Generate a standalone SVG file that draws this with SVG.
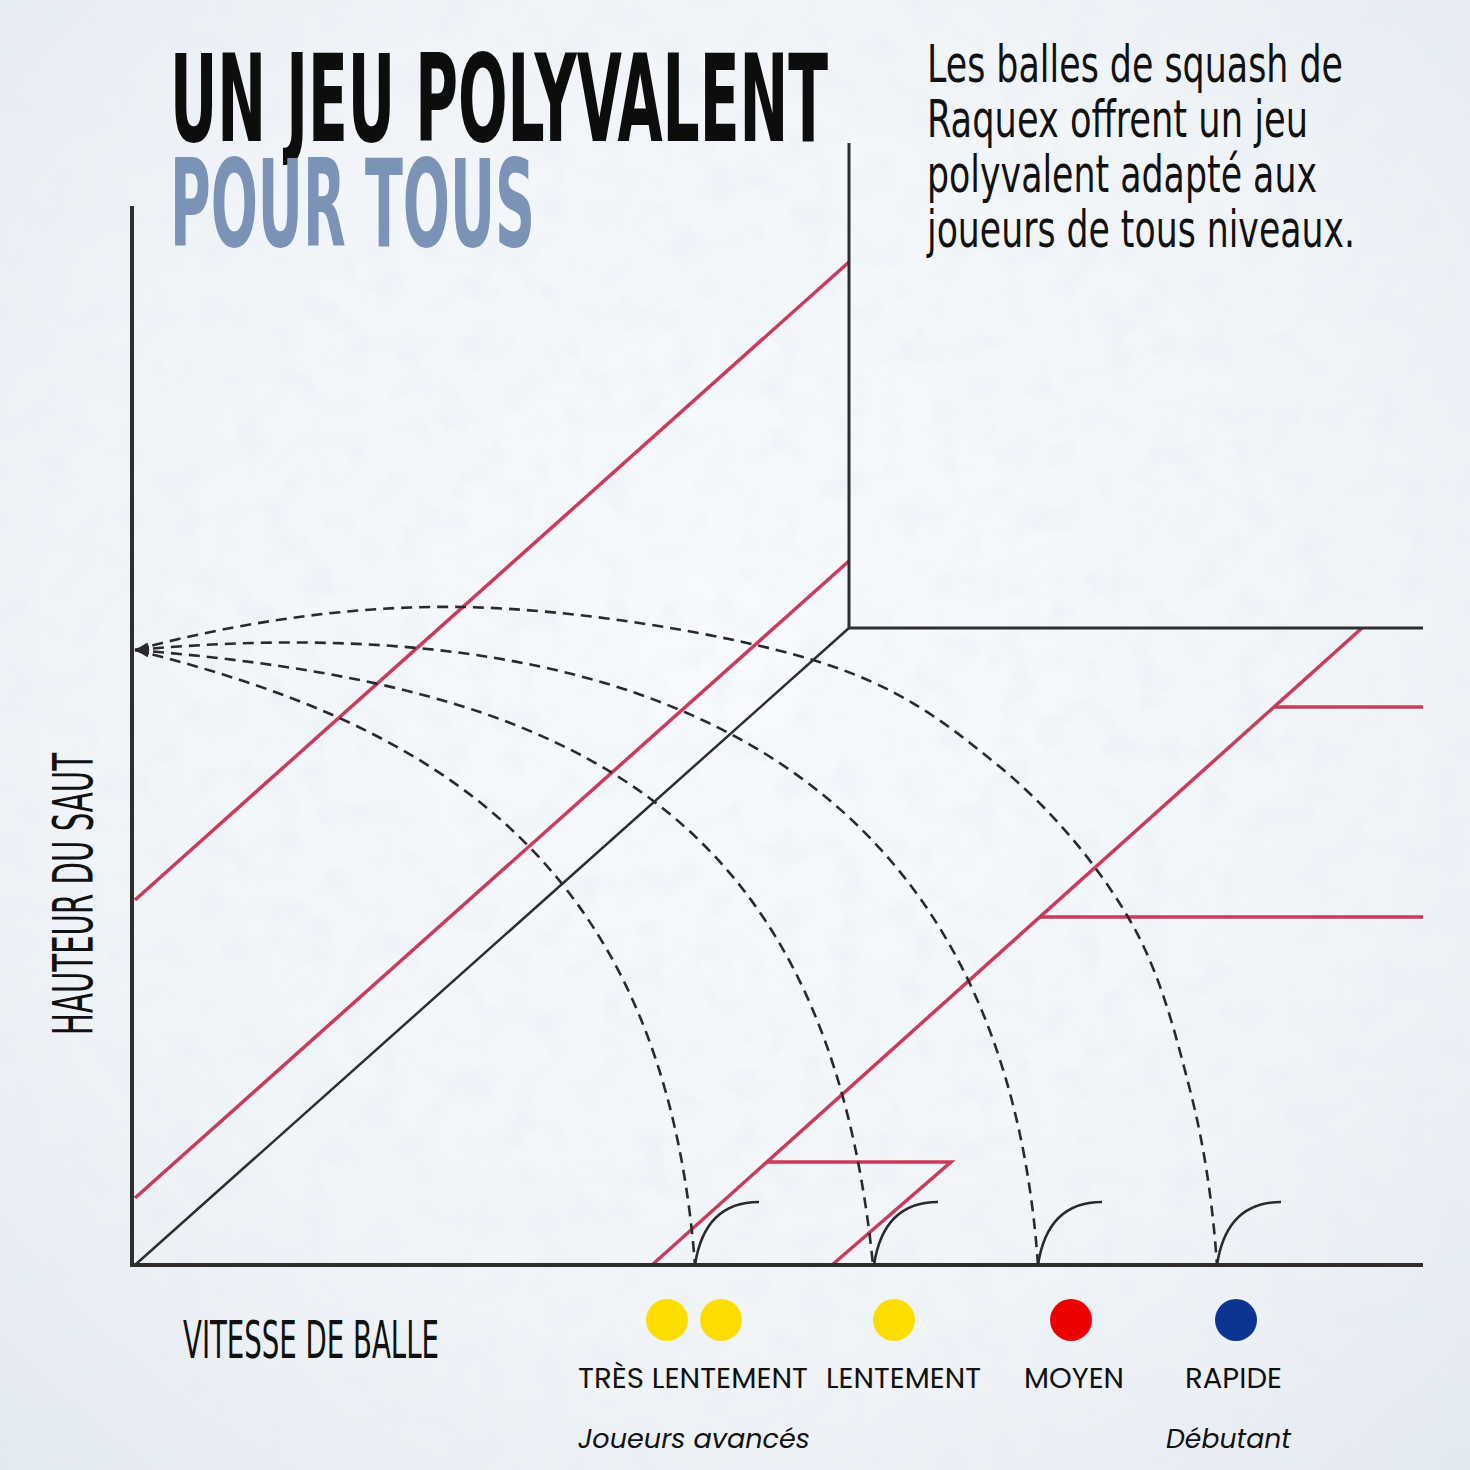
<svg xmlns="http://www.w3.org/2000/svg" width="1470" height="1470" viewBox="0 0 1470 1470">
  <defs>
    <radialGradient id="bg" cx="50%" cy="45%" r="75%">
      <stop offset="0" stop-color="#f8fafd"/>
      <stop offset="0.6" stop-color="#f1f5f9"/>
      <stop offset="1" stop-color="#e3e9f0"/>
    </radialGradient>
    <filter id="tex" x="0" y="0" width="100%" height="100%">
      <feTurbulence type="fractalNoise" baseFrequency="0.03" numOctaves="3" seed="7"/>
      <feColorMatrix values="0 0 0 0 0.80  0 0 0 0 0.85  0 0 0 0 0.92  0 0 0 1.8 -0.78"/>
    </filter>
    <marker id="ah" viewBox="0 0 14 8" refX="14" refY="4" markerWidth="14" markerHeight="8" markerUnits="userSpaceOnUse" orient="auto-start-reverse">
      <path d="M0,0 L14,4 L0,8 z" fill="#2a2a2a"/>
    </marker>
    <style>
      .axis{stroke:#2e2e2e;stroke-width:4;fill:none;stroke-linecap:square}
      .wall{stroke:#2e2e2e;stroke-width:3;fill:none}
      .diag{stroke:#2e2e2e;stroke-width:2.5;fill:none}
      .red{stroke:#c83b5c;stroke-width:3.5;fill:none;stroke-linejoin:miter}
      .arc{stroke:#2a2a2a;stroke-width:2.6;fill:none;stroke-dasharray:11 7}
      .bounce{stroke:#2a2a2a;stroke-width:2.6;fill:none}
      .cond{font-family:"Liberation Sans Narrow","DejaVu Sans Condensed","Liberation Sans",sans-serif;fill:#111}
      .title{font-family:"Liberation Sans Narrow","DejaVu Sans Condensed","Liberation Sans",sans-serif;font-weight:bold;font-size:122px}
      .lab{font-family:Poppins,Inter,"Open Sans",sans-serif;font-size:28px;fill:#111}
      .it{font-family:Poppins,Inter,"Open Sans",sans-serif;font-size:27px;font-style:italic;fill:#111}
    </style>
  </defs>

  <rect width="1470" height="1470" fill="url(#bg)"/>
  <rect width="1470" height="1470" filter="url(#tex)" opacity="0.55"/>

  <g id="title">
    <text class="title" x="170" y="141" fill="#0d0d0d" textLength="658" lengthAdjust="spacingAndGlyphs">UN JEU POLYVALENT</text>
    <text class="title" x="170" y="246" fill="#7b93b6" textLength="365" lengthAdjust="spacingAndGlyphs">POUR TOUS</text>
  </g>

  <g id="intro-text" class="cond" font-size="52">
    <text x="927" y="82" textLength="416" lengthAdjust="spacingAndGlyphs">Les balles de squash de</text>
    <text x="927" y="137" textLength="381" lengthAdjust="spacingAndGlyphs">Raquex offrent un jeu</text>
    <text x="927" y="192" textLength="390" lengthAdjust="spacingAndGlyphs">polyvalent adapté aux</text>
    <text x="927" y="247" textLength="428" lengthAdjust="spacingAndGlyphs">joueurs de tous niveaux.</text>
  </g>

  <g id="red-lines">
    <line class="red" x1="135" y1="900" x2="849" y2="262"/>
    <line class="red" x1="135" y1="1198" x2="849" y2="561"/>
    <line class="red" x1="652" y1="1265" x2="1362" y2="628"/>
    <line class="red" x1="1275" y1="707" x2="1423" y2="707"/>
    <line class="red" x1="1040" y1="917" x2="1423" y2="917"/>
    <polyline class="red" points="767,1162 951,1162 832,1265"/>
  </g>

  <g id="frame">
    <line class="wall" x1="849" y1="143" x2="849" y2="628"/>
    <line class="wall" x1="849" y1="628" x2="1423" y2="628"/>
    <line class="diag" x1="135" y1="1265" x2="849" y2="628"/>
    <line class="axis" x1="132" y1="208" x2="132" y2="1265"/>
    <line class="axis" x1="132" y1="1265" x2="1421" y2="1265"/>
  </g>

  <g id="connectors">
    <path class="arc" marker-start="url(#ah)" d="M135,650 C415,720 663,845 695,1265"/>
    <path class="arc" marker-start="url(#ah)" d="M135,650 C555,684 826,795 873,1265"/>
    <path class="arc" marker-start="url(#ah)" d="M135,650 C585,609 1000,725 1038,1265"/>
    <path class="arc" marker-start="url(#ah)" d="M135,650 C235,623 350,605 463,607 C576,609 723,633 813,660 C902,687 947,724 1000,767 C1052,810 1096,863 1128,917 C1160,971 1175,1032 1190,1090 C1205,1148 1213,1207 1217,1265"/>
  </g>

  <g id="bounces">
    <path class="bounce" d="M695,1265 C701,1225 721,1202 759,1202"/>
    <path class="bounce" d="M874,1265 C880,1225 900,1202 938,1202"/>
    <path class="bounce" d="M1038,1265 C1044,1225 1064,1202 1102,1202"/>
    <path class="bounce" d="M1217,1265 C1223,1225 1243,1202 1281,1202"/>
  </g>

  <g id="axis-labels" class="cond">
    <text font-size="55" transform="translate(92,1035) rotate(-90)" textLength="282" lengthAdjust="spacingAndGlyphs">HAUTEUR DU SAUT</text>
    <text font-size="51" x="183" y="1358" textLength="256" lengthAdjust="spacingAndGlyphs">VITESSE DE BALLE</text>
  </g>

  <g id="legend-tres-lentement">
    <circle cx="667" cy="1320" r="21" fill="#fddc00"/>
    <circle cx="721" cy="1320" r="21" fill="#fddc00"/>
    <text class="lab" x="578" y="1388" textLength="230" lengthAdjust="spacingAndGlyphs">TRÈS LENTEMENT</text>
  </g>
  <g id="legend-lentement">
    <circle cx="894" cy="1320" r="21" fill="#fddc00"/>
    <text class="lab" x="826" y="1388" textLength="155" lengthAdjust="spacingAndGlyphs">LENTEMENT</text>
  </g>
  <g id="legend-moyen">
    <circle cx="1071" cy="1320" r="21" fill="#ee0000"/>
    <text class="lab" x="1024" y="1388" textLength="100" lengthAdjust="spacingAndGlyphs">MOYEN</text>
  </g>
  <g id="legend-rapide">
    <circle cx="1236" cy="1320" r="21" fill="#0b3591"/>
    <text class="lab" x="1185" y="1388" textLength="97" lengthAdjust="spacingAndGlyphs">RAPIDE</text>
  </g>
  <g id="legend-levels">
    <text class="it" x="578" y="1448" textLength="232" lengthAdjust="spacingAndGlyphs">Joueurs avancés</text>
    <text class="it" x="1166" y="1448" textLength="125" lengthAdjust="spacingAndGlyphs">Débutant</text>
  </g>
</svg>
